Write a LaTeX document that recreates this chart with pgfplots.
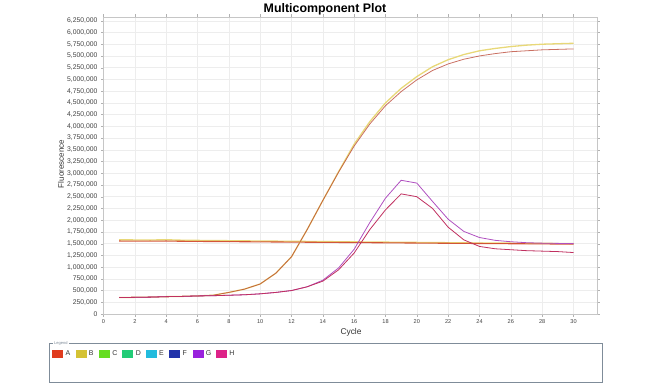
\documentclass[border=0pt]{standalone}
\usepackage{fontspec}
\setmainfont{Liberation Sans}
\usepackage{pgfplots}
\usepackage{pgfplotstable}
\pgfplotsset{compat=1.18}
\definecolor{cA}{HTML}{E03C1E}
\definecolor{cB}{HTML}{D4C234}
\definecolor{cC}{HTML}{66DD22}
\definecolor{cD}{HTML}{22CC77}
\definecolor{cE}{HTML}{22BBDD}
\definecolor{cF}{HTML}{2233AA}
\definecolor{cG}{HTML}{9922DD}
\definecolor{cH}{HTML}{DD2288}
\definecolor{lA}{HTML}{B8402E}
\definecolor{lAf}{HTML}{D0452A}
\definecolor{lB}{HTML}{E8D878}
\definecolor{lG}{HTML}{B050C0}
\definecolor{lH}{HTML}{C03060}
\definecolor{lgbox}{HTML}{7F8C99}

\pgfplotstableread{
c A B G H Af Bf
1 350000 350000 350000 350000 1555000 1580000
2 355000 355000 355000 355000 1553000 1578000
3 360000 360000 360000 360000 1552000 1576000
4 370000 370000 370000 370000 1555000 1582000
5 375000 375000 375000 375000 1550000 1572000
6 385000 385000 385000 385000 1547000 1568000
7 400000 400000 390000 390000 1545000 1565000
8 460000 460000 400000 400000 1543000 1562000
9 530000 530000 410000 410000 1540000 1558000
10 640000 640000 430000 430000 1537000 1555000
11 870000 870000 460000 460000 1535000 1552000
12 1220000 1220000 500000 500000 1532000 1549000
13 1800000 1800000 580000 580000 1530000 1546000
14 2420000 2420000 720000 700000 1527000 1543000
15 3020000 3030000 980000 940000 1525000 1540000
16 3580000 3620000 1380000 1300000 1522000 1537000
17 4050000 4100000 1950000 1800000 1520000 1534000
18 4440000 4500000 2470000 2220000 1517000 1531000
19 4740000 4810000 2850000 2560000 1515000 1528000
20 4990000 5060000 2790000 2500000 1512000 1525000
21 5190000 5270000 2400000 2250000 1510000 1522000
22 5330000 5420000 2020000 1850000 1507000 1519000
23 5430000 5530000 1760000 1580000 1505000 1516000
24 5500000 5610000 1630000 1440000 1502000 1513000
25 5550000 5660000 1570000 1390000 1500000 1511000
26 5590000 5700000 1540000 1370000 1498000 1509000
27 5610000 5730000 1520000 1350000 1496000 1507000
28 5630000 5750000 1510000 1340000 1494000 1505000
29 5640000 5760000 1505000 1330000 1492000 1503000
30 5650000 5770000 1500000 1310000 1490000 1501000
}\mcdata

\begin{document}
\begin{tikzpicture}[x=1pt,y=1pt]
\useasboundingbox (0,0) rectangle (650,386);
\begin{axis}[
  at={(103.5pt,72pt)}, anchor=south west,
  scale only axis, width=493.5pt, height=297pt,
  xmin=0, xmax=31.5, ymin=0, ymax=6330000,
  xtick={0,2,...,30},
  ytick distance=250000,
  scaled y ticks=false,
  /pgf/number format/.cd, fixed, precision=0, 1000 sep={,}, assume math mode=true,
  /pgfplots/.cd,
  yticklabel style={font=\fontsize{6.8}{7}\selectfont, text=black!75},
  xticklabel style={font=\fontsize{5.6}{6}\selectfont, text=black!75},
  tick align=outside, major tick length=2.5pt,
  tick style={gray!60},
  axis line style={gray!45},
  grid=major, major grid style={gray!14, line width=0.5pt},
  legend columns=8,
  legend style={at={(-0.1044,-0.1347)}, anchor=west, draw=none, fill=none,
    inner sep=0pt, font=\fontsize{7}{8}\selectfont, text=black!80,
    /tikz/every even column/.append style={column sep=1pt},
    nodes={inner sep=1pt}},
  legend cell align=left,
]
\addplot[forget plot, lB, line width=1.4pt] table[x=c,y=Bf]{\mcdata};
\addplot[forget plot, lAf, line width=1.1pt, opacity=0.9] table[x=c,y=Af]{\mcdata};
\addplot[forget plot, lB, line width=1.3pt] table[x=c,y=B]{\mcdata};
\addplot[forget plot, lA, line width=0.8pt, opacity=0.75] table[x=c,y=A]{\mcdata};
\addplot[forget plot, lG, line width=0.8pt] table[x=c,y=G]{\mcdata};
\addplot[forget plot, lH, line width=0.8pt] table[x=c,y=H]{\mcdata};
\addlegendimage{legend image code/.code={\fill[cA] (0pt,-3.5pt) rectangle (10pt,3.5pt);}}
\addlegendentry{\hspace{2pt}\makebox[8pt][l]{A}}
\addlegendimage{legend image code/.code={\fill[cB] (0pt,-3.5pt) rectangle (10pt,3.5pt);}}
\addlegendentry{\hspace{2pt}\makebox[8pt][l]{B}}
\addlegendimage{legend image code/.code={\fill[cC] (0pt,-3.5pt) rectangle (10pt,3.5pt);}}
\addlegendentry{\hspace{2pt}\makebox[8pt][l]{C}}
\addlegendimage{legend image code/.code={\fill[cD] (0pt,-3.5pt) rectangle (10pt,3.5pt);}}
\addlegendentry{\hspace{2pt}\makebox[8pt][l]{D}}
\addlegendimage{legend image code/.code={\fill[cE] (0pt,-3.5pt) rectangle (10pt,3.5pt);}}
\addlegendentry{\hspace{2pt}\makebox[8pt][l]{E}}
\addlegendimage{legend image code/.code={\fill[cF] (0pt,-3.5pt) rectangle (10pt,3.5pt);}}
\addlegendentry{\hspace{2pt}\makebox[8pt][l]{F}}
\addlegendimage{legend image code/.code={\fill[cG] (0pt,-3.5pt) rectangle (10pt,3.5pt);}}
\addlegendentry{\hspace{2pt}\makebox[8pt][l]{G}}
\addlegendimage{legend image code/.code={\fill[cH] (0pt,-3.5pt) rectangle (10pt,3.5pt);}}
\addlegendentry{\hspace{2pt}\makebox[8pt][l]{H}}
\end{axis}
\node[font=\bfseries\fontsize{12.4}{14}\selectfont] at (325,377) {Multicomponent Plot};
\node[font=\fontsize{8.4}{10}\selectfont, text=black!80] at (351,54) {Cycle};
\node[font=\fontsize{8}{10}\selectfont, text=black!80, rotate=90] at (61,222) {Fluorescence};
\draw[lgbox, line width=0.8pt] (49,4) rectangle (602,43);
\node[fill=white, inner sep=1pt, anchor=west, font=\fontsize{4}{5}\selectfont, text=lgbox] at (53,43) {Legend};
\end{tikzpicture}
\end{document}
